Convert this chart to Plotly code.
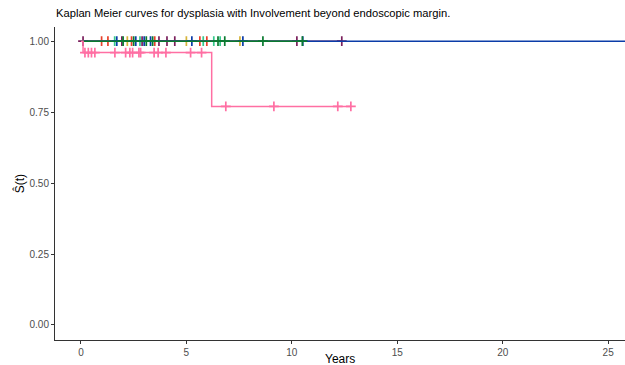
import plotly.graph_objects as go

# Each stratum: step times / survival, and censor times (survival at censor taken from step)
series_names = ["red", "teal", "yellow", "purple", "blue", "green", "pink"]
colors = {
    "blue": "#0B3CA8",
    "red": "#E8402A",
    "teal": "#35C98C",
    "yellow": "#D6B43A",
    "purple": "#7A1F5C",
    "green": "#0A7A2F",
    "pink": "#FF6FA3",
}
step_times = {
    "blue": [0, 26.5],
    "red": [0, 5.97],
    "teal": [0, 6.6],
    "yellow": [0, 10.52],
    "purple": [0, 12.37],
    "green": [0, 10.5],
    "pink": [0, 0.1, 6.2, 12.8],
}
step_surv = {
    "blue": [1.0, 1.0],
    "red": [1.0, 1.0],
    "teal": [1.0, 1.0],
    "yellow": [1.0, 1.0],
    "purple": [1.0, 1.0],
    "green": [1.0, 1.0],
    "pink": [1.0, 0.96, 0.77, 0.77],
}
censor_times = {
    "blue": [1.7, 2.6, 3.0, 3.3, 5.26, 7.68, 10.52],
    "red": [0.98, 1.28, 2.4, 3.5, 5.64, 5.97],
    "teal": [1.6, 2.8, 5.8, 6.3, 6.6],
    "yellow": [2.2, 5.0, 7.54],
    "purple": [0.1, 1.94, 2.9, 3.7, 4.08, 4.45, 10.24, 12.37],
    "green": [2.0, 2.5, 3.1, 3.4, 6.5, 6.82, 8.63, 10.5],
    "pink": [0.19, 0.35, 0.5, 0.66, 1.61, 2.12, 2.32, 2.45, 2.75, 2.83, 3.47,
             3.66, 4.03, 5.2, 5.72, 6.87, 9.15, 12.18, 12.8],
}

def surv_at(name, t):
    s = step_surv[name][0]
    for tt, ss in zip(step_times[name], step_surv[name]):
        if tt <= t:
            s = ss
    return s

fig = go.Figure()
for name in series_names:
    fig.add_trace(go.Scatter(
        x=step_times[name], y=step_surv[name], mode="lines",
        line=dict(color=colors[name], width=1.5, shape="hv"),
        showlegend=False, hoverinfo="skip"))
    fig.add_trace(go.Scatter(
        x=censor_times[name], y=[surv_at(name, t) for t in censor_times[name]],
        mode="markers",
        marker=dict(symbol="cross-thin", size=7, line=dict(color=colors[name], width=1.7)),
        showlegend=False, hoverinfo="skip"))

fig.update_layout(
    width=625, height=365,
    margin=dict(l=55, r=0, t=27, b=25),
    paper_bgcolor="white", plot_bgcolor="white",
    font=dict(family="Liberation Sans, Arial", color="#000000"),
    title=dict(text="Kaplan Meier curves for dysplasia with Involvement beyond endoscopic margin.",
               x=56/625, xanchor="left", y=1-13/365, yanchor="middle",
               font=dict(size=11.2, color="#000000")),
    annotations=[
        dict(text="Years", x=0.5, y=-0.061, xref="paper", yref="paper",
             xanchor="center", yanchor="middle", showarrow=False,
             font=dict(size=12, color="#000000")),
        dict(text="Ŝ(t)", x=-0.063, y=0.498, xref="paper", yref="paper",
             xanchor="center", yanchor="middle", showarrow=False, textangle=-90,
             font=dict(size=12, color="#000000")),
    ],
)
fig.update_layout(xaxis=dict(domain=[0, 1]), yaxis=dict(domain=[0, 1]))
fig.update_xaxes(
    range=[-1.23, 25.8], tickvals=[0, 5, 10, 15, 20, 25], ticktext=["0", "5", "10", "15", "20", "25"],
    showgrid=False, zeroline=False, showline=True, linecolor="#333333", linewidth=1,
    ticks="outside", ticklen=3, tickcolor="#333333", automargin=False,
    tickfont=dict(size=10, color="#4D4D4D"),
)
fig.update_yaxes(
    range=[-0.053, 1.05], tickvals=[0, 0.25, 0.5, 0.75, 1.0],
    ticktext=["0.00", "0.25", "0.50", "0.75", "1.00"],
    showgrid=False, zeroline=False, showline=True, linecolor="#333333", linewidth=1,
    ticks="outside", ticklen=3, tickcolor="#333333", automargin=False,
    tickfont=dict(size=10, color="#4D4D4D"),
)
fig.write_html("out.html")
